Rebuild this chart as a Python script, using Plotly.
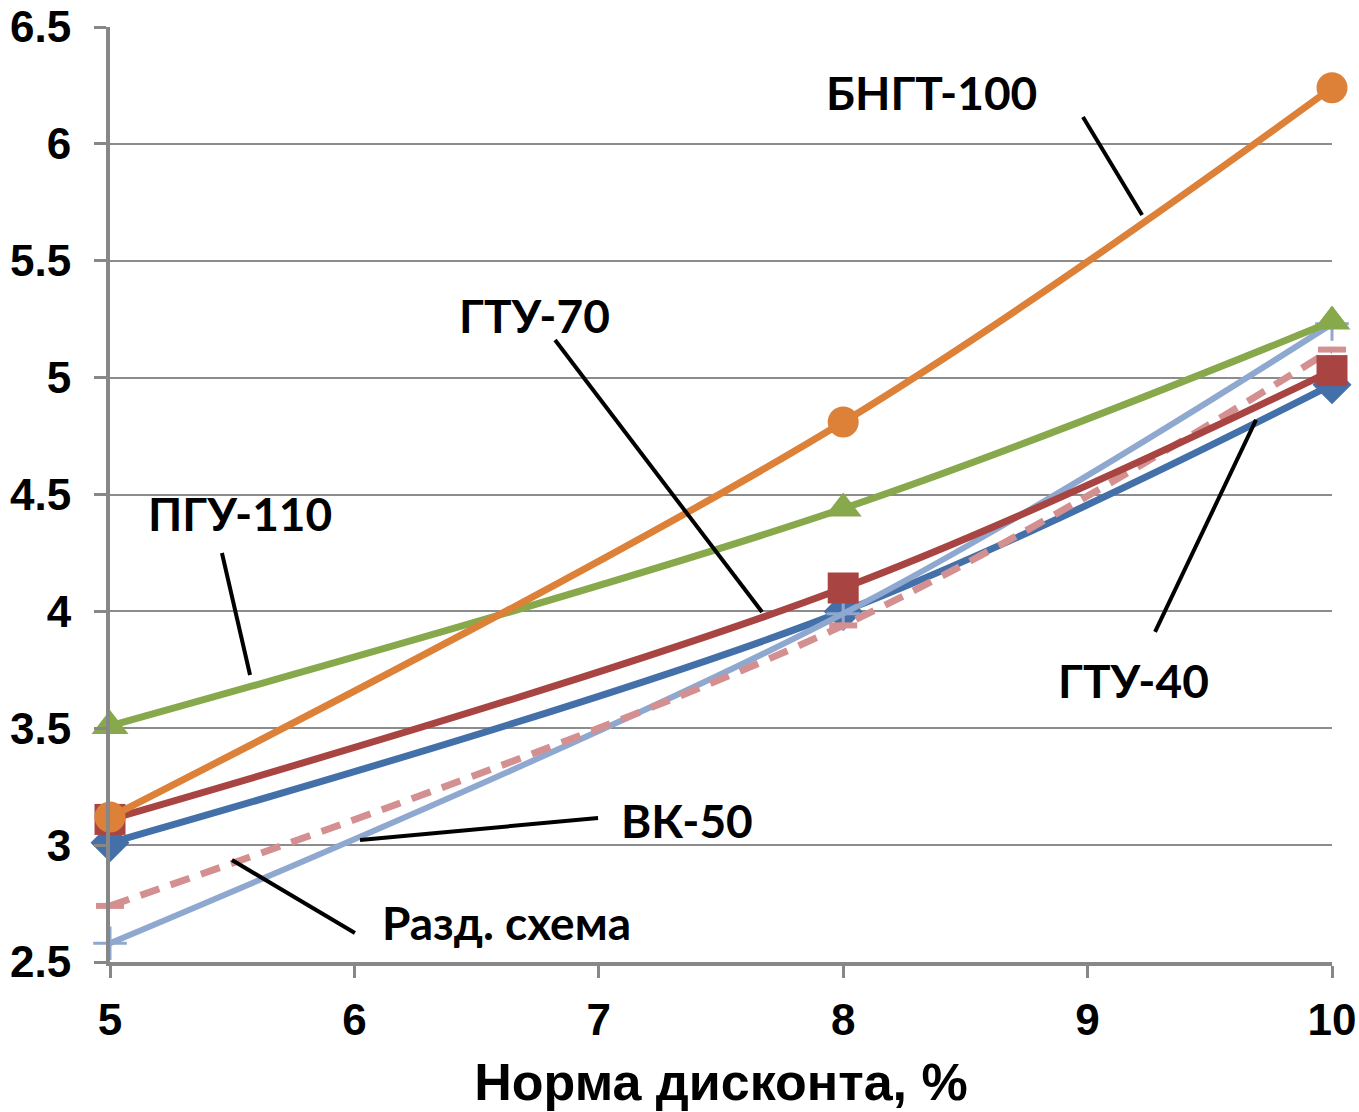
import plotly.graph_objects as go

x_vals = [5, 8, 10]
bngt_100 = [3.12, 4.81, 6.24]
pgu_110 = [3.51, 4.44, 5.24]
gtu_70 = [3.11, 4.10, 5.03]
gtu_40 = [3.01, 4.00, 4.97]
vk_50 = [2.58, 3.99, 5.23]
razd = [2.74, 3.94, 5.12]

x_ticks = [5, 6, 7, 8, 9, 10]
y_ticks = [2.5, 3, 3.5, 4, 4.5, 5, 5.5, 6, 6.5]
y_tick_text = ["2.5", "3", "3.5", "4", "4.5", "5", "5.5", "6", "6.5"]

fig = go.Figure()

def add(y, color, symbol, size, dash="solid", width=7, mline=None):
    fig.add_trace(go.Scatter(
        x=x_vals, y=y, mode="lines+markers",
        line=dict(color=color, width=width, shape="spline", smoothing=1, dash=dash),
        marker=dict(symbol=symbol, size=size, color=color,
                    line=dict(color=color, width=mline if mline else 0)),
        showlegend=False, cliponaxis=False))

add(gtu_40, "#4470A9", "diamond", 30)
add(vk_50, "#8EA8D0", "cross-thin", 24, width=6, mline=3)
add(razd, "#D49090", "line-ew", 20, dash="20px,12px", width=7, mline=6)
add(gtu_70, "#A84441", "square", 31)
add(pgu_110, "#87A84B", "triangle-up", 32)
add(bngt_100, "#DD8138", "circle", 31)

labels = [
    ("БНГТ-100", 8.363, 6.218, 8.981, 6.115, 9.223, 5.696),
    ("ГТУ-70", 6.735, 5.264, 6.821, 5.161, 7.668, 3.997),
    ("ПГУ-110", 5.532, 4.417, 5.458, 4.250, 5.573, 3.728),
    ("ГТУ-40", 9.186, 3.706, 9.276, 3.912, 9.689, 4.819),
    ("ВК-50", 7.361, 3.107, 6.997, 3.116, 6.023, 3.022),
    ("Разд. схема", 6.624, 2.671, 6.002, 2.624, 5.499, 2.936),
]
for t, tx, ty, x0, y0, x1, y1 in labels:
    fig.add_shape(type="line", x0=x0, y0=y0, x1=x1, y1=y1, xref="x", yref="y",
                  line=dict(color="black", width=4))
    fig.add_annotation(x=tx, y=ty, text=t, showarrow=False, xref="x", yref="y",
                       font=dict(family="Lato", size=46, color="black", weight="bold"))

fig.update_layout(
    width=1359, height=1112,
    margin=dict(l=110, r=27, t=27, b=150, autoexpand=False),
    plot_bgcolor="white", paper_bgcolor="white",
    font=dict(family="Liberation Sans", color="black"),
)
fig.update_xaxes(
    range=[5, 10], tickvals=x_ticks, showgrid=False, zeroline=False, automargin=False,
    showline=True, linecolor="#878787", linewidth=4,
    ticks="outside", ticklen=12, tickwidth=3, tickcolor="#878787",
    tickfont=dict(size=44, family="Liberation Sans", weight="bold"),
    ticklabelstandoff=4,
    title=dict(text="Норма дисконта, %", font=dict(size=52, family="Liberation Sans", weight="bold"), standoff=22),
)
fig.update_yaxes(
    range=[2.5, 6.5], tickvals=y_ticks, ticktext=y_tick_text, automargin=False,
    showgrid=True, gridcolor="#8C8C8C", gridwidth=2, zeroline=False,
    showline=True, linecolor="#878787", linewidth=4,
    ticks="outside", ticklen=12, tickwidth=3, tickcolor="#878787",
    tickfont=dict(size=44, family="Liberation Sans", weight="bold"),
    ticklabelstandoff=14,
)

fig.write_html("out.html")
